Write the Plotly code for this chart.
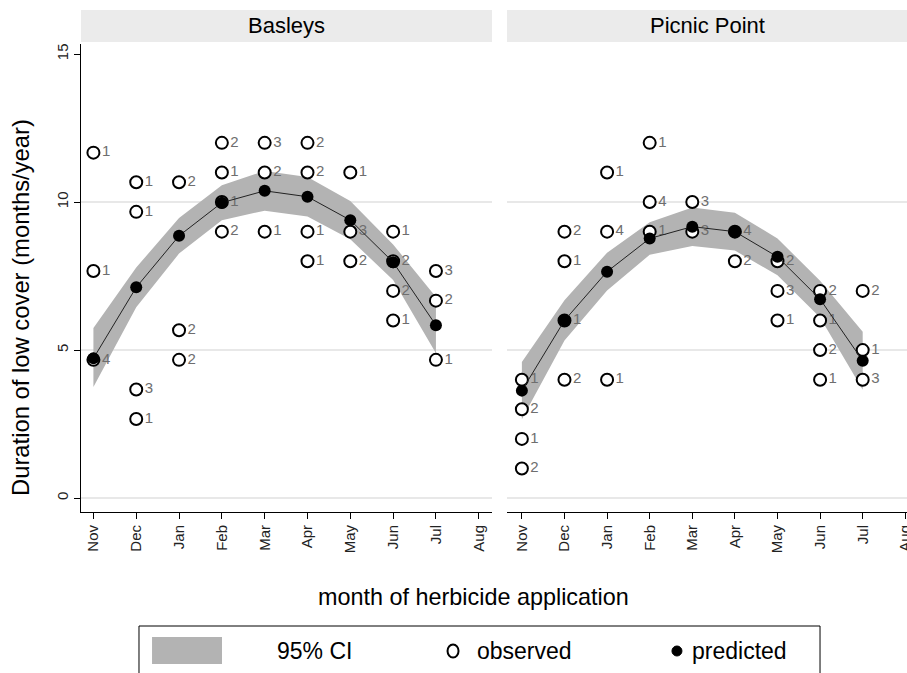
import plotly.graph_objects as go

months = ["Nov", "Dec", "Jan", "Feb", "Mar", "Apr", "May", "Jun", "Jul", "Aug"]
fit_months = [0, 1, 2, 3, 4, 5, 6, 7, 8]

# Basleys
bas_obs_x = [0, 0, 0, 1, 1, 1, 1, 2, 2, 2, 3, 3, 3, 3, 4, 4, 4, 5, 5, 5, 5, 6, 6, 6, 7, 7, 7, 7, 8, 8, 8]
bas_obs_y = [11.67, 7.67, 4.67, 10.67, 9.67, 3.67, 2.67, 10.67, 5.67, 4.67,
             12, 11, 10, 9, 12, 11, 9, 12, 11, 9, 8, 11, 9, 8, 9, 8, 7, 6, 7.67, 6.67, 4.67]
bas_obs_n = ["1", "1", "4", "1", "1", "3", "1", "2", "2", "2",
             "2", "1", "1", "2", "3", "2", "1", "2", "2", "1", "1", "1", "3", "2", "1", "2", "2", "1", "3", "2", "1"]
bas_pred = [4.72, 7.12, 8.86, 9.98, 10.38, 10.18, 9.39, 7.97, 5.84]
bas_lo = [3.75, 6.45, 8.26, 9.39, 9.71, 9.51, 8.74, 7.37, 4.89]
bas_hi = [5.75, 7.79, 9.46, 10.57, 11.05, 10.85, 10.04, 8.57, 6.79]

# Picnic Point
pic_obs_x = [0, 0, 0, 0, 1, 1, 1, 1, 2, 2, 2, 3, 3, 3, 4, 4, 5, 5, 6, 6, 6, 7, 7, 7, 7, 8, 8, 8]
pic_obs_y = [4, 3, 2, 1, 9, 8, 6, 4, 11, 9, 4, 12, 10, 9, 10, 9, 9, 8, 8, 7, 6, 7, 6, 5, 4, 7, 5, 4]
pic_obs_n = ["1", "2", "1", "2", "2", "1", "1", "2", "1", "4", "1", "1", "4", "1", "3", "3", "4", "2",
             "2", "3", "1", "2", "1", "2", "1", "2", "1", "3"]
pic_pred = [3.63, 6.00, 7.65, 8.77, 9.17, 9.00, 8.15, 6.72, 4.64]
pic_lo = [2.66, 5.32, 7.01, 8.22, 8.52, 8.36, 7.53, 6.10, 3.66]
pic_hi = [4.60, 6.68, 8.29, 9.32, 9.82, 9.64, 8.77, 7.34, 5.62]

panels = ["Basleys", "Picnic Point"]
grid_vals = [0, 5, 10]
y_ticks = [0, 5, 10, 15]

FONT = "Arial, Liberation Sans, sans-serif"
BAND = "#b3b3b3"

fig = go.Figure()

data = [
    (bas_obs_x, bas_obs_y, bas_obs_n, bas_pred, bas_lo, bas_hi, "x", "y"),
    (pic_obs_x, pic_obs_y, pic_obs_n, pic_pred, pic_lo, pic_hi, "x2", "y2"),
]
for ox, oy, on, pr, lo, hi, xa, ya in data:
    fig.add_trace(go.Scatter(x=fit_months + fit_months[::-1], y=hi + lo[::-1],
                             fill="toself", fillcolor=BAND, line=dict(width=0),
                             mode="lines", hoverinfo="skip", showlegend=False,
                             xaxis=xa, yaxis=ya))
    fig.add_trace(go.Scatter(x=ox, y=oy, text=on, mode="markers+text",
                             textposition="middle right",
                             textfont=dict(family=FONT, size=15, color="#6e6e6e"),
                             marker=dict(symbol="circle", size=12, color="white",
                                         line=dict(color="black", width=2)),
                             showlegend=False, xaxis=xa, yaxis=ya))
    fig.add_trace(go.Scatter(x=fit_months, y=pr, mode="lines+markers",
                             line=dict(color="#222222", width=1),
                             marker=dict(symbol="circle", size=12, color="black"),
                             showlegend=False, xaxis=xa, yaxis=ya))

axis_common = dict(tickvals=list(range(len(months))), ticktext=months, tickangle=-90,
                   ticks="outside", ticklen=6, tickcolor="black", showline=True,
                   linecolor="black", linewidth=1, showgrid=False, zeroline=False,
                   automargin=False, ticklabeloverflow="allow",
                   tickfont=dict(family=FONT, size=15, color="#222222"))

fig.update_layout(
    width=907, height=673,
    margin=dict(l=81, r=0, t=44, b=161, pad=0),
    plot_bgcolor="white", paper_bgcolor="white",
    font=dict(family=FONT, color="black"),
    xaxis=dict(domain=[0, 0.4976], range=[-0.29, 9.31], anchor="y", **axis_common),
    xaxis2=dict(domain=[0.5157, 1], range=[-0.35, 9.04], anchor="y2", **axis_common),
    yaxis=dict(range=[-0.47, 15.34], tickvals=y_ticks, tickangle=-90, ticks="outside",
               ticklen=6, tickcolor="black", showline=True, linecolor="black", linewidth=1,
               showgrid=False, zeroline=False, anchor="x", automargin=False,
               tickfont=dict(family=FONT, size=15, color="#222222")),
    yaxis2=dict(range=[-0.47, 15.34], matches="y", showticklabels=False, ticks="",
                showline=False, showgrid=False, zeroline=False, anchor="x2"),
)

shapes = []
annotations = []
for xa, ya, name in [("x", "y", panels[0]), ("x2", "y2", panels[1])]:
    for g in grid_vals:
        shapes.append(dict(type="line", xref=xa + " domain", yref=ya, x0=0, x1=1, y0=g, y1=g,
                           line=dict(color="#e8e8e8", width=2), layer="below"))
    shapes.append(dict(type="rect", xref=xa + " domain", yref="paper", x0=0, x1=1,
                       y0=1.0043, y1=1.0726, fillcolor="#ebebeb", line=dict(width=0)))

annotations.append(dict(text=panels[0], xref="x domain", yref="paper", x=0.5, y=1.0385,
                        xanchor="center", yanchor="middle", showarrow=False,
                        font=dict(family=FONT, size=22, color="black")))
annotations.append(dict(text=panels[1], xref="paper", yref="paper", x=0.759, y=1.0385,
                        xanchor="center", yanchor="middle", showarrow=False,
                        font=dict(family=FONT, size=22, color="black")))

# axis titles
annotations.append(dict(text="Duration of low cover (months/year)", xref="paper", yref="paper",
                        x=-0.0726, y=0.436, textangle=-90, showarrow=False,
                        xanchor="center", yanchor="middle",
                        font=dict(family=FONT, size=23.8, color="black")))
annotations.append(dict(text="month of herbicide application", xref="paper", yref="paper",
                        x=0.4746, y=-0.1816, showarrow=False, xanchor="center", yanchor="middle",
                        font=dict(family=FONT, size=23.4, color="black")))

# legend
shapes.append(dict(type="rect", xref="paper", yref="paper", x0=0.0702, x1=0.8947,
                   y0=-0.2436, y1=-0.37, line=dict(color="black", width=1), fillcolor="white"))
shapes.append(dict(type="rect", xref="paper", yref="paper", x0=0.0860, x1=0.1707,
                   y0=-0.2671, y1=-0.3248, line=dict(width=0), fillcolor=BAND))
shapes.append(dict(type="circle", xref="paper", yref="paper", xsizemode="pixel", ysizemode="pixel",
                   xanchor=0.4504, yanchor=-0.297, x0=-5.5, x1=5.5, y0=-6.5, y1=6.5,
                   line=dict(color="black", width=2), fillcolor="white"))
shapes.append(dict(type="circle", xref="paper", yref="paper", xsizemode="pixel", ysizemode="pixel",
                   xanchor=0.7215, yanchor=-0.297, x0=-5, x1=5, y0=-5, y1=5,
                   line=dict(color="black", width=1), fillcolor="black"))
for txt, xp in [("95% CI", 0.2349), ("observed", 0.4770), ("predicted", 0.7373)]:
    annotations.append(dict(text=txt, xref="paper", yref="paper", x=xp, y=-0.297,
                            xanchor="left", yanchor="middle", showarrow=False,
                            font=dict(family=FONT, size=23, color="black")))

fig.update_layout(shapes=shapes, annotations=annotations)
fig.write_html("out.html",
               config={"displayModeBar": False},
               post_script="document.body.style.margin='0px';"
                           "document.body.style.overflow='hidden';")
